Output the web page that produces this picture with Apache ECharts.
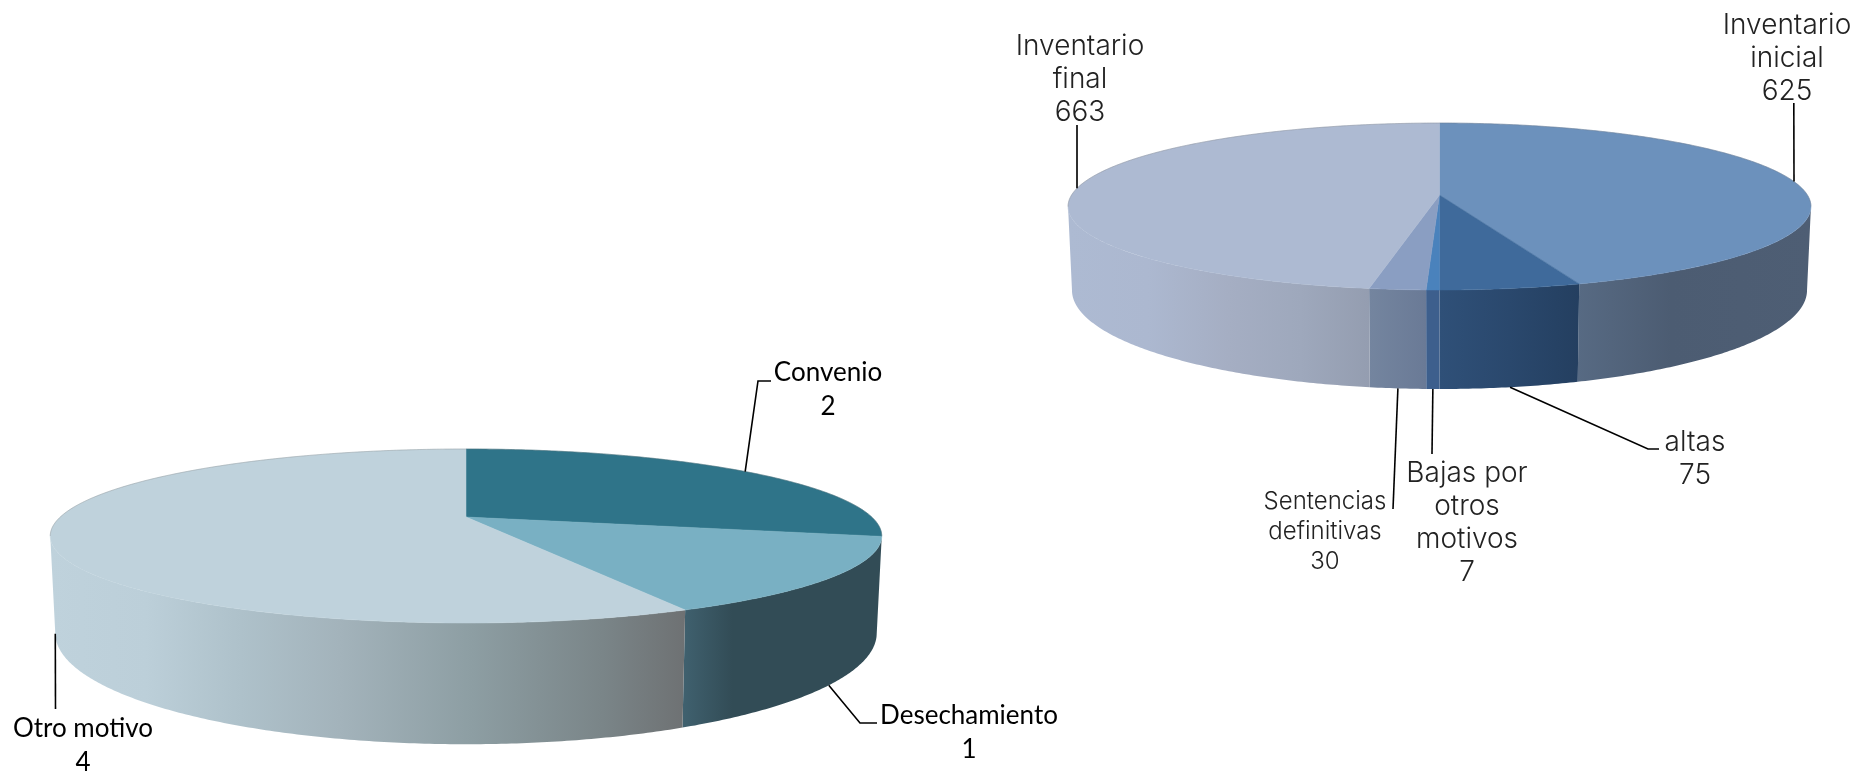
<!DOCTYPE html>
<html>
<head>
<meta charset="utf-8">
<title>Pasteles</title>
<script src="https://cdn.jsdelivr.net/npm/echarts@6/dist/echarts.min.js"></script>
<style>
  html, body { margin: 0; padding: 0; background: #fff; }
  #main { width: 1859px; height: 773px; }
</style>
</head>
<body>
<div id="main"></div>
<script>
// datos del pastel izquierdo
const leftNames = ["Convenio", "Desechamiento", "Otro motivo"];
const leftValues = [2, 1, 4];

// datos del pastel derecho
const rightNames = ["Inventario\ninicial", "altas", "Bajas por\notros\nmotivos", "Sentencias\ndefinitivas", "Inventario\nfinal"];
const rightValues = [625, 75, 7, 30, 663];

// colores: cara superior y pared lateral (degradado horizontal, [offset, color])
const leftTop = ["#2f7489", "#79b0c3", "#bfd2dc"];
const leftWall = [
  [[0, "#2f5a6a"], [1, "#2f5a6a"]],
  [[0, "#40616f"], [0.25, "#324c56"], [1, "#324c56"]],
  [[0, "#bfd2dc"], [0.15, "#bccfd9"], [0.3, "#aec1ca"], [0.456, "#a3b3bb"], [0.664, "#8d9ea3"], [0.87, "#7a8588"], [1, "#6e7173"]],
];
const rightTop = ["#6c91bc", "#3f6a9b", "#4a82bc", "#8a9ec2", "#adbad2"];
const rightWall = [
  [[0, "#576a83"], [0.4, "#4c5c72"], [1, "#4e5e74"]],
  [[0, "#2f5078"], [0.5, "#2a486d"], [1, "#243f60"]],
  [[0, "#3d5f8d"], [1, "#3d5f8d"]],
  [[0, "#74859f"], [1, "#6a7a96"]],
  [[0, "#adbad2"], [0.265, "#acb8d0"], [0.53, "#a5aec3"], [0.77, "#9ea8bc"], [1, "#949db0"]],
];

// geometria en perspectiva de cada disco: cx, y del centro, A y B semiejes, k fuga
const leftShape = {
  k: 0.2184,
  top: { cx: 466, cy: 517, a: 82.85, b: 405.7 },
  bottom: { cx: 466, cy: 609, a: 105.7, b: 400.8 },
};
const rightShape = {
  k: 0.138,
  top: { cx: 1439.5, cy: 195, a: 81.9, b: 367.9 },
  bottom: { cx: 1439.5, cy: 276.5, a: 97, b: 364 },
};

// donde termina cada linea guia y donde va cada etiqueta
const leftLabels = [
  { line: [[758, 381], [771, 381]], x: 828, y: 390 },
  { line: [[860, 723], [877, 723]], x: 969, y: 733 },
  { line: [[55.5, 709]], x: 83, y: 746 },
];
const rightLabels = [
  { line: [[1793.8, 103]], x: 1787, y: 59 },
  { line: [[1648, 449], [1659, 449]], x: 1695, y: 459 },
  { line: [[1432, 454]], x: 1467, y: 523 },
  { line: [[1393, 509]], x: 1325, y: 532 },
  { line: [[1077, 125]], x: 1080, y: 80 },
];

const chart = echarts.init(document.getElementById("main"));

// punto del borde de un disco para un angulo (0 arriba, sentido horario)
function rimPoint(disc, k, angle) {
  const u = Math.sin(angle);
  const v = -Math.cos(angle);
  const d = 1 - k * v;
  return [disc.cx + (disc.b * u) / d, disc.cy + (disc.a * v) / d];
}

function rimArc(disc, k, from, to) {
  const pts = [];
  const steps = Math.max(2, Math.ceil(Math.abs(to - from) / 0.01));
  for (let i = 0; i <= steps; i++) {
    pts.push(rimPoint(disc, k, from + ((to - from) * i) / steps));
  }
  return pts;
}

function pieSeries(names, values, topColors, wallColors, shape, labels, textStyle) {
  const total = values.reduce((a, b) => a + b, 0);
  const rightEdge = Math.acos(-shape.k);
  const leftEdge = Math.PI * 2 - rightEdge;

  return {
    type: "custom",
    coordinateSystem: "none",
    silent: true,
    data: values.map((v) => [v]),
    renderItem: function (params, api) {
      const i = params.dataIndex;
      let start = 0;
      for (let n = 0; n < i; n++) start += (values[n] / total) * Math.PI * 2;
      const end = start + (api.value(0) / total) * Math.PI * 2;
      const mid = (start + end) / 2;
      const children = [];

      // pared lateral, solo la parte que se ve de frente
      const wallFrom = Math.max(start, rightEdge);
      const wallTo = Math.min(end, leftEdge);
      if (wallTo > wallFrom) {
        const topArc = rimArc(shape.top, shape.k, wallFrom, wallTo);
        const bottomArc = rimArc(shape.bottom, shape.k, wallFrom, wallTo).reverse();
        const xs = topArc.concat(bottomArc).map((p) => p[0]);
        const fill = {
          type: "linear",
          global: true,
          x: Math.min.apply(null, xs),
          y: 0,
          x2: Math.max.apply(null, xs),
          y2: 0,
          colorStops: wallColors[i].map((s) => ({ offset: s[0], color: s[1] })),
        };
        children.push({
          type: "polygon",
          z2: 1,
          shape: { points: topArc.concat(bottomArc) },
          style: { fill: fill },
        });
      }

      // cara superior
      const topPoints = [[shape.top.cx, shape.top.cy]].concat(rimArc(shape.top, shape.k, start, end));
      children.push({
        type: "polygon",
        z2: 2,
        shape: { points: topPoints },
        style: { fill: topColors[i], stroke: topColors[i], lineWidth: 0.5 },
      });

      // filo gris del borde trasero
      const backParts = [
        [start, Math.min(end, rightEdge)],
        [Math.max(start, leftEdge), end],
      ];
      backParts.forEach((part) => {
        if (part[1] > part[0]) {
          children.push({
            type: "polyline",
            z2: 3,
            shape: { points: rimArc(shape.top, shape.k, part[0], part[1]) },
            style: { fill: "none", stroke: "rgba(110,110,110,0.35)", lineWidth: 0.8 },
          });
        }
      });

      // linea guia: sale del punto medio de la rebanada
      const inFront = mid > rightEdge && mid < leftEdge;
      const anchor = rimPoint(inFront ? shape.bottom : shape.top, shape.k, mid);
      children.push({
        type: "polyline",
        z2: 4,
        shape: { points: [anchor].concat(labels[i].line) },
        style: { fill: "none", stroke: "#000", lineWidth: 1.6 },
      });

      // etiqueta: nombre y valor
      const small = names[i].indexOf("Sentencias") === 0;
      children.push({
        type: "text",
        z2: 5,
        style: {
          text: names[i] + "\n" + api.value(0),
          x: labels[i].x,
          y: labels[i].y,
          align: "center",
          verticalAlign: "middle",
          fontFamily: textStyle.fontFamily,
          fontWeight: textStyle.fontWeight,
          fontSize: small ? textStyle.smallSize : textStyle.fontSize,
          lineHeight: small ? textStyle.smallLine : textStyle.lineHeight,
          fill: textStyle.color,
        },
      });

      return { type: "group", children: children };
    },
  };
}

chart.setOption({
  backgroundColor: "#fff",
  animation: false,
  series: [
    pieSeries(leftNames, leftValues, leftTop, leftWall, leftShape, leftLabels, {
      fontFamily: "Lato",
      fontWeight: 400,
      fontSize: 26,
      lineHeight: 34,
      color: "#000",
    }),
    pieSeries(rightNames, rightValues, rightTop, rightWall, rightShape, rightLabels, {
      fontFamily: "Inter",
      fontWeight: 300,
      fontSize: 28,
      lineHeight: 33,
      smallSize: 24,
      smallLine: 30,
      color: "#222",
    }),
  ],
});
</script>
</body>
</html>
